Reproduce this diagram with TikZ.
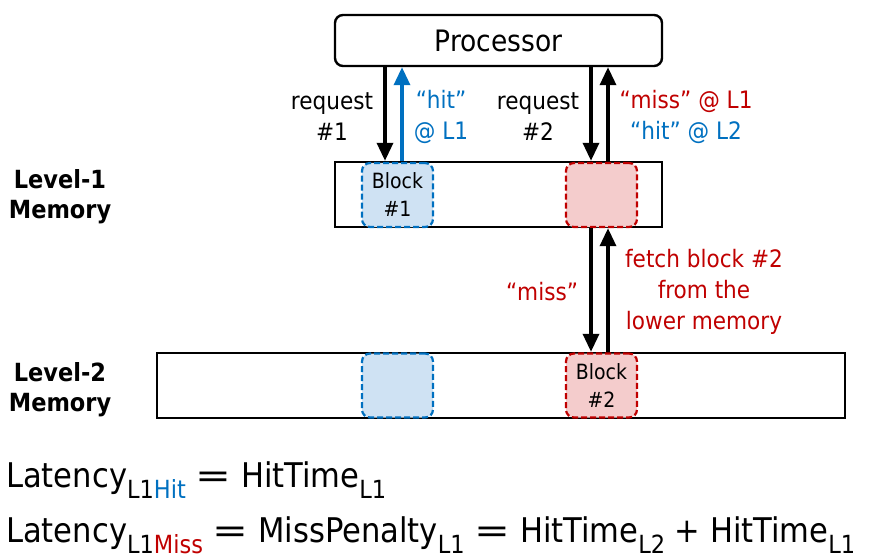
\documentclass[tikz,border=0pt]{standalone}
\usepackage{fontspec}
\setmainfont{DejaVu Sans Condensed}
\usetikzlibrary{arrows.meta,positioning}
\definecolor{hitblue}{HTML}{0070C0}
\definecolor{missred}{HTML}{C00000}
\definecolor{hitfill}{HTML}{CFE2F3}
\definecolor{missfill}{HTML}{F4CCCC}
\newcommand\lsub[1]{\raisebox{-0.33em}{\fontsize{25}{25}\selectfont #1}}
\newcommand\eqsign{\scalebox{1.4}[1]{=}}
\tikzset{
  mem/.style={draw, line width=2.4pt, minimum height=65pt, inner sep=0pt},
  blk/.style={draw, dash pattern=on 6pt off 3pt, line width=2.2pt, rounded corners=8pt, minimum width=71pt, minimum height=64pt, inner sep=0pt, align=center, font=\fontsize{21}{28}\selectfont},
  hitblk/.style={blk, draw=hitblue, fill=hitfill},
  missblk/.style={blk, draw=missred, fill=missfill},
  arr/.style={line width=3.4pt, -{Triangle[length=18pt,width=16pt]}},
  lbl/.style={align=center, font=\fontsize{24}{31}\selectfont},
  lvl/.style={align=center, font=\bfseries\fontsize{25}{30}\selectfont},
  eqn/.style={anchor=base west, inner sep=0pt, font=\fontsize{34}{34}\selectfont}
}
\begin{document}
\begin{tikzpicture}[x=1pt,y=-1pt]
  \useasboundingbox (0,0) rectangle (876,559);
  \node[draw, line width=2.4pt, rounded corners=8pt, minimum width=327pt, minimum height=51pt, font=\fontsize{29.5}{29.5}\selectfont] (proc) at (498.5,40.5) {Processor};
  \node[mem, minimum width=327pt] (l1) at (498.5,194.5) {};
  \node[mem, minimum width=688pt] (l2) at (501,385.5) {};
  \node[hitblk] (b1) at (397.5,195) {Block\\\#1};
  \node[missblk] (m1) at (601.5,195) {};
  \node[hitblk] (b2) at (397.5,385.5) {};
  \node[missblk] (m2) at (601.5,385.5) {Block\\\#2};
  \coordinate (x1) at (385,0);
  \coordinate (x2) at (402,0);
  \coordinate (x3) at (591,0);
  \coordinate (x4) at (608,0);
  \draw[arr] (proc.south -| x1) -- (l1.north -| x1);
  \draw[arr, hitblue] (l1.north -| x2) -- (proc.south -| x2);
  \draw[arr] (proc.south -| x3) -- (l1.north -| x3);
  \draw[arr] (l1.north -| x4) -- (proc.south -| x4);
  \draw[arr] (l1.south -| x3) -- (l2.north -| x3);
  \draw[arr] (l2.north -| x4) -- (l1.south -| x4);
  \node[lbl] (rq1) at (332,117) {request\\\#1};
  \node[lbl, text=hitblue] (h1) at (441,117) {“hit”\\@ L1};
  \node[lbl] (rq2) at (538,117) {request\\\#2};
  \node[lbl] (ms1) at (686,117) {\textcolor{missred}{“miss” @ L1}\\\textcolor{hitblue}{“hit” @ L2}};
  \node[lbl, text=missred] (ms2) at (542,292) {“miss”};
  \node[lbl, text=missred] (fetch) at (704,292) {fetch block \#2\\from the\\lower memory};
  \node[lvl] (lv1) at (60,197) {Level-1\\Memory};
  \node[lvl] (lv2) at (60,390) {Level-2\\Memory};
  \node[eqn] (eq1) at (6,487) {Latency\lsub{L1\textcolor{hitblue}{Hit}} \eqsign{} HitTime\lsub{L1}};
  \node[eqn] (eq2) at (6,542) {Latency\lsub{L1\textcolor{missred}{Miss}} \eqsign{} MissPenalty\lsub{L1} \eqsign{} HitTime\lsub{L2} + HitTime\lsub{L1}};
\end{tikzpicture}
\end{document}
